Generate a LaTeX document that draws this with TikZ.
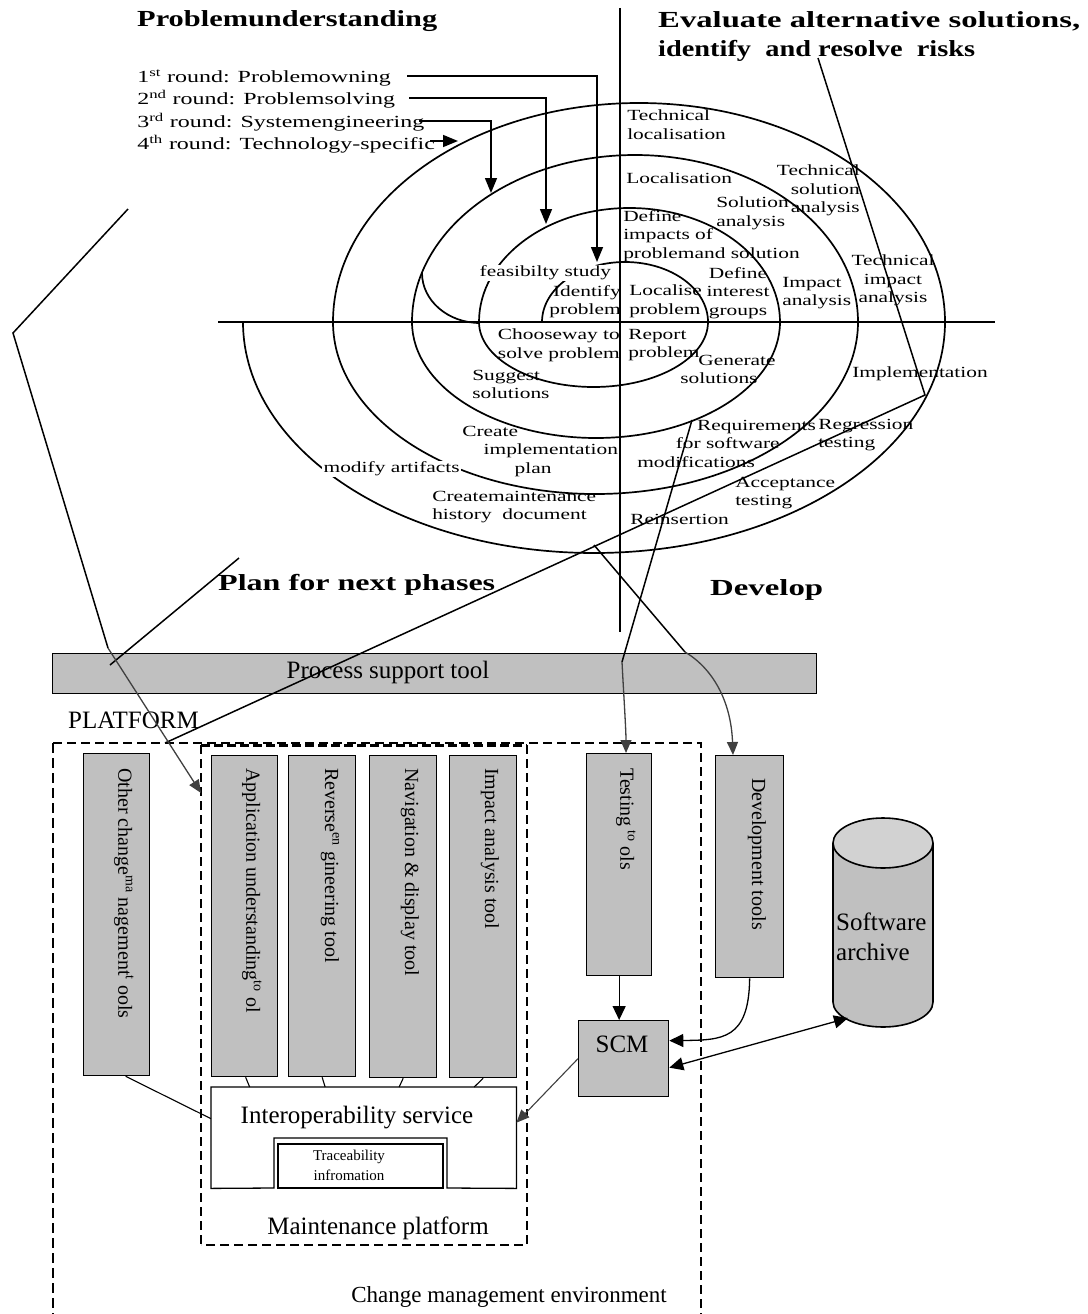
\documentclass[tikz,border=0pt]{standalone}
\usepackage{fontspec}
\setmainfont{Liberation Serif}
\usetikzlibrary{arrows.meta,calc}
\definecolor{boxgray}{HTML}{C0C0C0}
\definecolor{topgray}{HTML}{D2D2D2}
\definecolor{lgray}{HTML}{404040}
\newcommand{\wfit}[2]{\resizebox{#1}{\height}{#2}}
\begin{document}
\begin{tikzpicture}[x=1pt,y=-1pt,
  spiral/.style={line width=1.7pt},
  stray/.style={line width=1.5pt},
  lbl/.style={font=\fontsize{15.5pt}{18.5pt}\selectfont, xscale=1.38, inner sep=0pt, align=left},
  rnd/.style={font=\fontsize{17pt}{22pt}\selectfont, xscale=1.41, inner sep=0pt, anchor=west},
  ttl/.style={font=\fontsize{23pt}{28pt}\selectfont\bfseries, inner sep=0pt, anchor=west},
  arr/.style={line width=1.5pt, -{Triangle[length=15pt,width=12pt]}},
  tool/.style={draw, fill=boxgray, line width=1.3pt, inner sep=0pt, anchor=north west},
  vtext/.style={rotate=-90, anchor=west, font=\fontsize{20pt}{24pt}\selectfont, inner sep=0pt},
  big/.style={font=\fontsize{25pt}{30pt}\selectfont, inner sep=0pt},
  garr/.style={draw=lgray, line width=1.3pt, -{Triangle[length=13pt,width=11pt]}},
  barr/.style={line width=1.3pt, -{Triangle[length=14pt,width=13pt]}},
]
\fill[white] (0,0) rectangle (1087,1314);
\useasboundingbox (0,0) rectangle (1087,1314);

% ---------- axes ----------
\coordinate (vaT) at (620,8);
\coordinate (vaB) at (620,632);
\coordinate (haL) at (218,322);
\coordinate (haR) at (995,322);
\draw[spiral] (vaT) -- (vaB);
\draw[spiral] (haL) -- (haR);

% ---------- spiral ----------
\coordinate (sp0) at (542,322);
\draw[spiral] (sp0)
  arc[start angle=180,end angle=360,x radius=83,y radius=60]
  arc[start angle=0,end angle=180,x radius=114.5,y radius=65]
  arc[start angle=180,end angle=360,x radius=150.5,y radius=114]
  arc[start angle=0,end angle=180,x radius=184,y radius=116]
  arc[start angle=180,end angle=360,x radius=223,y radius=167]
  arc[start angle=0,end angle=180,x radius=262.5,y radius=172]
  arc[start angle=180,end angle=360,x radius=306,y radius=219]
  arc[start angle=0,end angle=180,x radius=351,y radius=231];
\coordinate (hk) at (422,273);
\draw[spiral] (hk) arc[start angle=180,end angle=90,x radius=58,y radius=50];

% ---------- titles ----------
\node[ttl] (t1) at (137,21) {\wfit{300pt}{Problemunderstanding}};
\node[ttl] (t2) at (658,21) {\wfit{422pt}{Evaluate alternative solutions,}};
\node[ttl] (t3) at (658,51) {\wfit{317pt}{identify \ and resolve \ risks}};
\node[ttl] (t4) at (218,585) {\wfit{277pt}{Plan for next phases}};
\node[ttl] (t5) at (710,590) {\wfit{113pt}{Develop}};

% ---------- rounds ----------
\node[rnd] (r1) at (137,78) {1\textsuperscript{st} round: Problemowning};
\node[rnd] (r2) at (137,99) {2\textsuperscript{nd} round: Problemsolving};
\node[rnd] (r3) at (137,122) {3\textsuperscript{rd} round: Systemengineering};
\node[rnd] (r4) at (137,144) {4\textsuperscript{th} round: Technology-specific};
\coordinate (r1s) at (407,76);  \coordinate (a1) at (597,262);
\coordinate (r2s) at (409,98);  \coordinate (a2) at (546,224);
\coordinate (r3s) at (419,121); \coordinate (a3) at (491,193);
\coordinate (r4s) at (430,141); \coordinate (a4) at (458,141);
\draw[arr] (r1s) -| (a1);
\draw[arr] (r2s) -| (a2);
\draw[arr] (r3s) -| (a3);
\draw[arr] (r4s) -- (a4);

% ---------- spiral labels ----------
\node[lbl, anchor=north west] (tl) at (627,110) {Technical\\localisation};
\node[lbl, anchor=west] (loc) at (626,178) {Localisation};
\node[lbl, anchor=north east, align=right] (tsa) at (860,165) {Technical\\solution\\analysis};
\node[lbl, anchor=north west] (sa) at (716,197) {Solution\\analysis};
\node[lbl, anchor=north west] (dip) at (623,210) {Define\\impacts of\\problemand solution};
\node[lbl, anchor=north, align=center] (dig) at (738,267) {Define\\interest\\groups};
\node[lbl, anchor=north west] (ia) at (782,277) {Impact\\analysis};
\node[lbl, anchor=north, align=center] (tia) at (893,255) {Technical\\impact\\analysis};
\node[lbl, anchor=west, fill=white, inner sep=1pt] (feas) at (478,273) {feasibilty study};
\node[lbl, anchor=north east, align=right] (idp) at (621,285) {Identify\\problem};
\node[lbl, anchor=north west] (lop) at (629,285) {Localise\\problem};
\node[lbl, anchor=north east, align=right] (cwt) at (620,329) {Chooseway to\\solve problem};
\node[lbl, anchor=north west] (rep) at (628,329) {Report\\problem};
\node[lbl, anchor=north west] (gen) at (680,355) {\hspace*{0.85em}Generate\\solutions};
\node[lbl, anchor=north west] (sug) at (472,370) {Suggest\\solutions};
\node[lbl, anchor=north west] (cip) at (462,426) {Create\\\hspace*{1em}implementation\\\hspace*{2.45em}plan};
\node[lbl, anchor=west, fill=white, inner sep=1pt] (mod) at (322,469) {modify artifacts};
\node[lbl, anchor=north west] (cmh) at (432,491) {Createmaintenance\\history \ document};
\node[lbl, anchor=north west] (req) at (637,420) {\hspace*{2.8em}Requirements\\\hspace*{1.8em}for software\\modifications};
\node[lbl, anchor=north west] (reg) at (818,419) {Regression\\testing};
\node[lbl, anchor=west] (impl) at (852,374) {Implementation};
\node[lbl, anchor=north west] (acc) at (735,477) {Acceptance\\testing};
\node[lbl, anchor=west] (reins) at (630,519) {Reinsertion};

% ---------- lower diagram ----------
\node[tool, minimum width=764pt, minimum height=40pt] (proc) at (52,653) {};
\node[big] (procl) at (388,672) {Process support tool};
\node[big, anchor=west] (plat) at (68,720) {PLATFORM};

% environment borders
\coordinate (eTL) at (53,743); \coordinate (eTR) at (701,743);
\coordinate (eBL) at (53,1314); \coordinate (eBR) at (701,1314);
\draw[line width=1.3pt, dash pattern=on 9pt off 5pt] (eTL) -- (eTR) -- (eBR);
\draw[line width=2.6pt, dash pattern=on 10pt off 5pt] (eTL) -- (eBL);
% maintenance platform borders
\coordinate (mTL) at (201,745); \coordinate (mTR) at (527,745);
\coordinate (mBL) at (201,1245); \coordinate (mBR) at (527,1245);
\draw[line width=3pt, dash pattern=on 9pt off 4pt] (mTL) -- (mTR);
\draw[line width=2.6pt, dash pattern=on 9pt off 5pt] (mTR) -- (mBR) -- (mBL);
\draw[line width=1.2pt, dash pattern=on 9pt off 5pt] (mTL) -- (mBL);

% tool boxes
\node[tool, minimum width=66pt, minimum height=322pt] (other) at (83,753) {};
\node[tool, minimum width=66pt, minimum height=321pt] (app) at (211,755) {};
\node[tool, minimum width=67pt, minimum height=321pt] (rev) at (288,755) {};
\node[tool, minimum width=67pt, minimum height=322pt] (nav) at (369,755) {};
\node[tool, minimum width=67pt, minimum height=322pt] (imp) at (449,755) {};
\node[tool, minimum width=65pt, minimum height=222pt] (test) at (586,753) {};
\node[tool, minimum width=68pt, minimum height=222pt] (dev) at (715,755) {};
\node[tool, minimum width=90pt, minimum height=76pt] (scm) at (578,1020) {};

\node[vtext] (otherl) at (124,768) {Other change\textsuperscript{ma} nagement\textsuperscript{t} ools};
\node[vtext] (appl) at (252,768) {Application understanding\textsuperscript{to} ol};
\node[vtext] (revl) at (330,768) {Reverse\textsuperscript{en} gineering tool};
\node[vtext] (navl) at (410,768) {Navigation \& display tool};
\node[vtext] (impl2) at (490,768) {Impact analysis tool};
\node[vtext] (testl) at (626,768) {Testing\textsuperscript{ to} ols};
\node[vtext] (devl) at (757,778) {Development tools};
\node[big] (scml) at (622,1044) {SCM};

% interoperability service
\node[minimum width=305pt, minimum height=101pt, anchor=north west, inner sep=0pt] (interop) at (211,1087) {};
\draw[line width=1.3pt, fill=white] (interop.north west) -- (interop.north east) -- (interop.south east)
  -- (447,1188) -- (447,1138) -- (274,1138) -- (274,1188) -- (interop.south west) -- cycle;
\node[draw, line width=2pt, minimum width=165pt, minimum height=44pt, anchor=north west, inner sep=0pt] (trace) at (277,1143) {};
\node[big] (interopl) at (357,1118) {Interoperability service};
\node[font=\fontsize{15pt}{20pt}\selectfont, align=center, inner sep=0pt] (tracel) at (349,1165) {Traceability\\infromation};
\node[big] (maintl) at (378,1228) {Maintenance platform};
\node[font=\fontsize{23pt}{28pt}\selectfont, inner sep=0pt] (envl) at (509,1297) {Change management environment};

% software archive
\coordinate (cylT) at (883,843);
\coordinate (cylB) at (883,1002);
\fill[boxgray] (833,843) -- (833,1002) arc[start angle=180,end angle=0,x radius=50,y radius=25] -- (933,843) -- cycle;
\draw[line width=1.6pt] (833,843) -- (833,1002) arc[start angle=180,end angle=0,x radius=50,y radius=25] -- (933,843);
\draw[line width=1.6pt, fill=topgray] (cylT) ellipse[x radius=50, y radius=25];
\node[big, align=left, anchor=north west] (archl) at (836,913) {Software\\archive};
\coordinate (archbl) at (848,1018);

% connectors lower
\draw[line width=1.1pt] ([xshift=9pt]other.south) -- ([yshift=19pt]interop.west);
\draw[line width=1.1pt] ([xshift=1pt]app.south) -- ([xshift=5pt]app.south |- interop.north);
\draw[line width=1.1pt] ([xshift=0pt]rev.south) -- ([xshift=3pt]rev.south |- interop.north);
\draw[line width=1.1pt] ([xshift=0pt]nav.south) -- ([xshift=-4pt]nav.south |- interop.north);
\draw[line width=1.1pt] ([xshift=0pt]imp.south) -- ([xshift=-9pt]imp.south |- interop.north);
\draw[garr, line width=1.1pt] (scm.west) -- ([yshift=15pt]interop.east);
\draw[barr] (test.south) -- (test.south |- scm.north);
\draw[barr] (dev.south) .. controls (749,1040) and (722,1040) .. ([yshift=18pt]scm.east);
\draw[barr, {Triangle[length=14pt,width=13pt]}-{Triangle[length=14pt,width=13pt]}] ([yshift=-9pt]scm.east) -- (archbl);

% ---------- stray lines ----------
\coordinate (p1a) at (128,209); \coordinate (p1b) at (13,333); \coordinate (p1c) at (108,648);
\coordinate (p2a) at (239,558); \coordinate (p2b) at (110,665);
\coordinate (p3a) at (818,58);  \coordinate (p3b) at (925,395); \coordinate (p3c) at (165,743);
\coordinate (p4a) at (692,420); \coordinate (p4b) at (622,662);
\coordinate (p5a) at (594,545); \coordinate (p5b) at (685,652);
\coordinate (mw) at (201,793);
\coordinate (tin) at (626,753);
\coordinate (din) at (733,755);
\draw[stray] (p1a) -- (p1b) -- (p1c);
\draw[stray] (p2a) -- (p2b);
\draw[stray] (p3a) -- (p3b) -- (p3c);
\draw[stray] (p4a) -- (p4b);
\draw[stray] (p5a) -- (p5b);
\draw[garr] (p1c) -- (mw);
\draw[garr] (p4b) .. controls (624,700) and (626,730) .. (tin);
\draw[garr] (p5b) .. controls (712,668) and (731,700) .. (din);
\end{tikzpicture}
\end{document}
